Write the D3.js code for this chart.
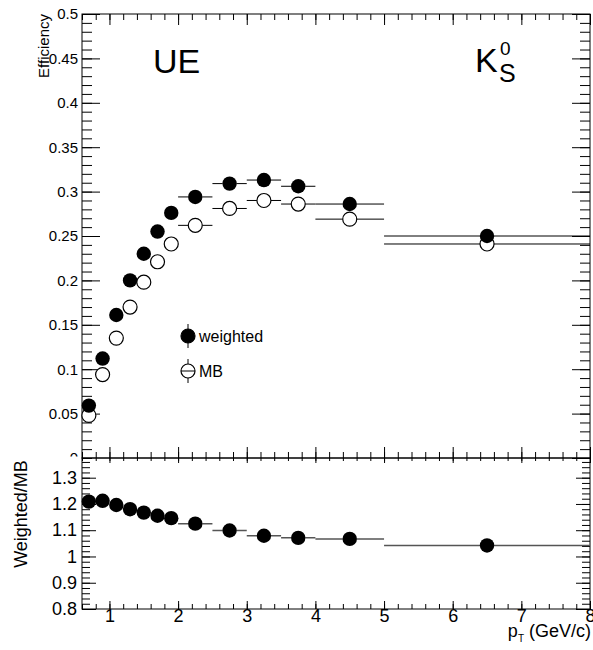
<!DOCTYPE html>
<html>
<head>
<meta charset="utf-8">
<script src="https://cdn.jsdelivr.net/npm/d3@7"></script>
<style>
  body { margin: 0; background: #fff; }
  svg { font-family: "Liberation Sans", Arial, Helvetica, sans-serif; }
</style>
</head>
<body>
<svg id="chart" width="593" height="650"></svg>
<script>
// pT bins (GeV/c)
const binLo = [0.6, 0.8, 1.0, 1.2, 1.4, 1.6, 1.8, 2.0, 2.5, 3.0, 3.5, 4.0, 5.0]
const binHi = [0.8, 1.0, 1.2, 1.4, 1.6, 1.8, 2.0, 2.5, 3.0, 3.5, 4.0, 5.0, 8.0]
const ptCenter = [0.7, 0.9, 1.1, 1.3, 1.5, 1.7, 1.9, 2.25, 2.75, 3.25, 3.75, 4.5, 6.5]

// efficiency, weighted vs MB
const effWeighted = [0.059, 0.112, 0.161, 0.200, 0.230, 0.255, 0.276, 0.294, 0.309, 0.313, 0.306, 0.286, 0.250]
const effMB = [0.048, 0.094, 0.135, 0.170, 0.198, 0.221, 0.241, 0.262, 0.281, 0.290, 0.286, 0.269, 0.241]
// ratio weighted/MB
const ratio = [1.209, 1.212, 1.196, 1.180, 1.167, 1.155, 1.146, 1.125, 1.099, 1.079, 1.071, 1.067, 1.042]

const topMajor = [0, 0.05, 0.1, 0.15, 0.2, 0.25, 0.3, 0.35, 0.4, 0.45, 0.5]
const botMajor = [0.8, 0.9, 1.0, 1.1, 1.2, 1.3]
const xMajor = [1, 2, 3, 4, 5, 6, 7, 8]

const svg = d3.select('#chart')
const x = d3.scaleLinear().domain([0.6, 8]).range([82, 590])
const yTop = d3.scaleLinear().domain([0, 0.5]).range([458, 14])
const yBot = d3.scaleLinear().domain([0.8, 1.375]).range([609, 458])

const X0 = 82, X1 = 590

function drawAxis(axis, tx, ty, fontSize) {
  const g = svg.append('g').attr('transform', `translate(${tx},${ty})`).call(axis)
  g.select('.domain').remove()
  g.selectAll('line').attr('stroke', '#000').attr('stroke-width', 1)
  g.selectAll('text').attr('fill', '#000').style('font-size', fontSize + 'px')
  g.attr('font-family', null)
  return g
}

// ---------- top pad ----------
const fmt = d3.format('.2~f')
drawAxis(d3.axisLeft(yTop).tickValues(topMajor).tickSize(-18).tickPadding(4).tickFormat(fmt), X0, 0, 15)

// bottom pad covers the lower part of the top pad
svg.append('rect').attr('x', 0).attr('y', 456.5).attr('width', 593).attr('height', 200).attr('fill', '#fff')

drawAxis(d3.axisLeft(yTop).tickValues(d3.range(0, 0.5001, 0.01)).tickSize(-10).tickFormat(''), X0, 0, 15)
drawAxis(d3.axisRight(yTop).tickValues(topMajor).tickSize(-18).tickFormat(''), X1, 0, 15)
drawAxis(d3.axisRight(yTop).tickValues(d3.range(0, 0.5001, 0.01)).tickSize(-10).tickFormat(''), X1, 0, 15)
drawAxis(d3.axisBottom(x).tickValues(xMajor).tickSize(-11).tickFormat(''), 0, 458, 15)
drawAxis(d3.axisBottom(x).tickValues(d3.range(0.6, 8.001, 0.2)).tickSize(-6).tickFormat(''), 0, 458, 15)
drawAxis(d3.axisTop(x).tickValues(xMajor).tickSize(-11).tickFormat(''), 0, 14, 15)
drawAxis(d3.axisTop(x).tickValues(d3.range(0.6, 8.001, 0.2)).tickSize(-6).tickFormat(''), 0, 14, 15)

svg.append('rect').attr('x', X0).attr('y', 14).attr('width', X1 - X0).attr('height', 444)
  .attr('fill', 'none').attr('stroke', '#000').attr('stroke-width', 1)

const idx = d3.range(ptCenter.length)

// horizontal error bars (bin widths)
function hbars(yScale, vals, color, width, r) {
  svg.append('g').selectAll('path').data(idx).join('path')
    .attr('d', i => {
      const xa = x(binLo[i]), xb = x(binHi[i]), xc = x(ptCenter[i]), yy = yScale(vals[i])
      let d = ''
      if (xc - r > xa) d += `M${xa},${yy}H${xc - r}`
      if (xc + r < xb) d += `M${xc + r},${yy}H${xb}`
      return d
    })
    .attr('stroke', color).attr('stroke-width', width).attr('fill', 'none')
}

hbars(yTop, effMB, '#000', 1, 7)
hbars(yTop, effWeighted, '#000', 1, 7)

svg.append('g').selectAll('circle').data(idx).join('circle')
  .attr('cx', i => x(ptCenter[i])).attr('cy', i => yTop(effMB[i])).attr('r', 7)
  .attr('fill', '#fff').attr('stroke', '#000').attr('stroke-width', 1.2)

svg.append('g').selectAll('circle').data(idx).join('circle')
  .attr('cx', i => x(ptCenter[i])).attr('cy', i => yTop(effWeighted[i])).attr('r', 7.2)
  .attr('fill', '#000')

// labels
svg.append('text').attr('transform', 'translate(49,14) rotate(-90)')
  .attr('text-anchor', 'end').style('font-size', '15px').text('Efficiency')

svg.append('text').attr('x', 153).attr('y', 73).style('font-size', '34px').text('UE')

svg.append('text').attr('x', 475).attr('y', 72).style('font-size', '34px').text('K')
svg.append('text').attr('x', 500).attr('y', 55).style('font-size', '19px').text('0')
svg.append('text').attr('x', 499).attr('y', 82).style('font-size', '25px').text('S')

// legend
const legend = [
  { label: 'weighted', filled: true, y: 336 },
  { label: 'MB', filled: false, y: 371 }
]
const lg = svg.append('g').selectAll('g').data(legend).join('g')
  .attr('transform', d => `translate(188,${d.y})`)
lg.append('line').attr('x1', 0).attr('x2', 0).attr('y1', -12).attr('y2', 12).attr('stroke', '#000')
lg.append('circle').attr('r', 7)
  .attr('fill', d => d.filled ? '#000' : '#fff').attr('stroke', '#000').attr('stroke-width', 1.2)
lg.filter(d => !d.filled).append('line').attr('x1', -7).attr('x2', 7).attr('stroke', '#000')
lg.append('text').attr('x', 11).attr('y', 6).style('font-size', '16px').text(d => d.label)

// ---------- bottom pad ----------
drawAxis(d3.axisLeft(yBot).tickValues(botMajor).tickSize(-14).tickPadding(5).tickFormat(d3.format('.1~f')), X0, 0, 18)
drawAxis(d3.axisLeft(yBot).tickValues(d3.range(0.8, 1.3751, 0.02)).tickSize(-8).tickFormat(''), X0, 0, 18)
drawAxis(d3.axisRight(yBot).tickValues(botMajor).tickSize(-14).tickFormat(''), X1, 0, 18)
drawAxis(d3.axisRight(yBot).tickValues(d3.range(0.8, 1.3751, 0.02)).tickSize(-8).tickFormat(''), X1, 0, 18)
drawAxis(d3.axisBottom(x).tickValues(xMajor).tickSize(-8).tickPadding(0).tickFormat(d3.format('d')), 0, 609, 18)
drawAxis(d3.axisBottom(x).tickValues(d3.range(0.6, 8.001, 0.2)).tickSize(-5).tickFormat(''), 0, 609, 18)
drawAxis(d3.axisTop(x).tickValues(xMajor).tickSize(-5).tickFormat(''), 0, 458, 18)
drawAxis(d3.axisTop(x).tickValues(d3.range(0.6, 8.001, 0.2)).tickSize(-3).tickFormat(''), 0, 458, 18)

svg.append('rect').attr('x', X0).attr('y', 458).attr('width', X1 - X0).attr('height', 151)
  .attr('fill', 'none').attr('stroke', '#000').attr('stroke-width', 1)

hbars(yBot, ratio, '#555', 1.5, 7)
svg.append('g').selectAll('circle').data(idx).join('circle')
  .attr('cx', i => x(ptCenter[i])).attr('cy', i => yBot(ratio[i])).attr('r', 7.2)
  .attr('fill', '#000')

svg.append('text').attr('transform', 'translate(27,514) rotate(-90)')
  .attr('text-anchor', 'middle').style('font-size', '18px').text('Weighted/MB')

const xt = svg.append('text').attr('x', 591).attr('y', 637).attr('text-anchor', 'end').style('font-size', '18px')
xt.append('tspan').text('p')
xt.append('tspan').attr('dy', 5).style('font-size', '10px').text('T')
xt.append('tspan').attr('dy', -5).text(' (GeV/c)')
</script>
</body>
</html>
